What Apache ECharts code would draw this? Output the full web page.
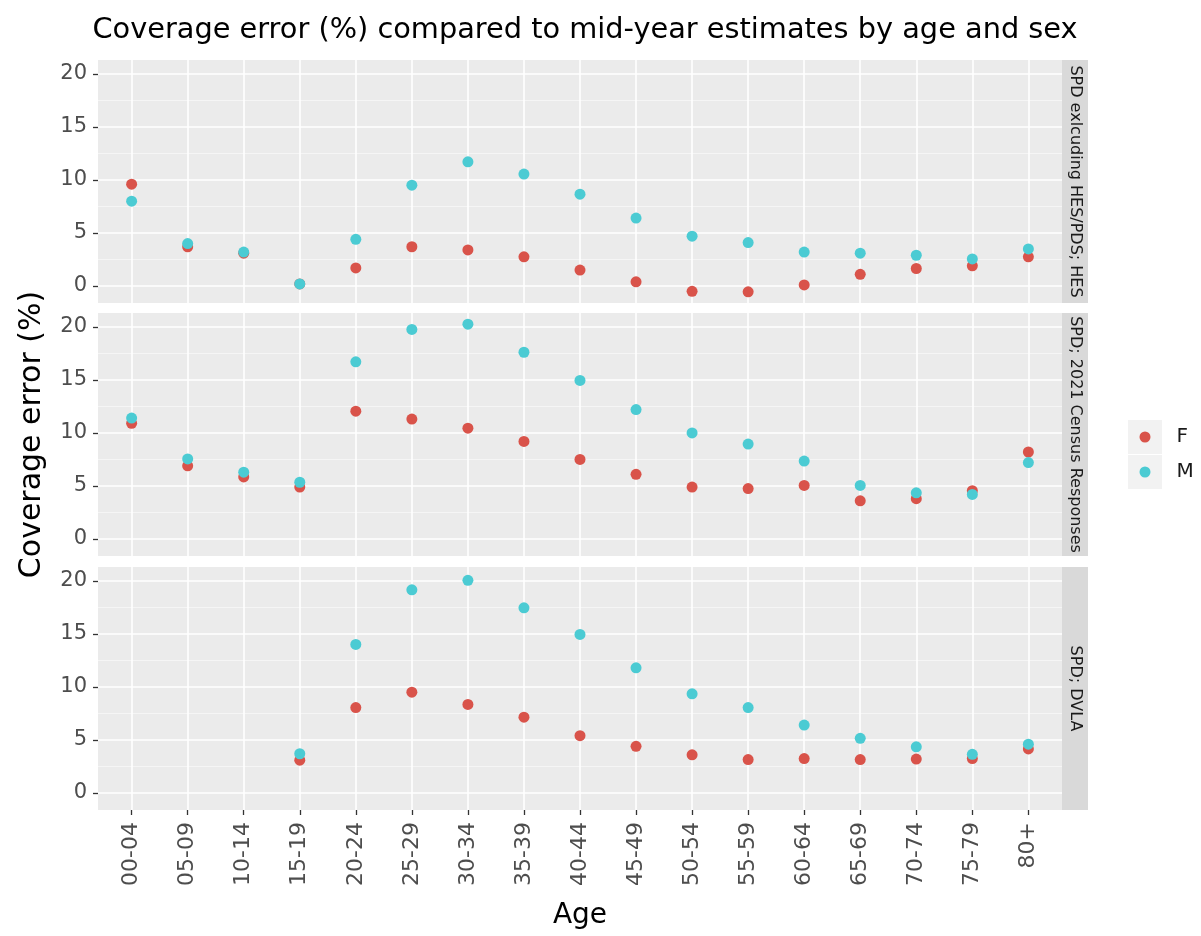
<!DOCTYPE html>
<html>
<head>
<meta charset="utf-8">
<script src="https://cdn.jsdelivr.net/npm/echarts@6/dist/echarts.min.js"></script>
<style>
  html, body { margin: 0; padding: 0; background: #fff; }
  #main { width: 1201px; height: 936px; }
</style>
</head>
<body>
<div id="main"></div>
<script>
// age bands on the x axis
var ages = ['00-04', '05-09', '10-14', '15-19', '20-24', '25-29', '30-34', '35-39',
            '40-44', '45-49', '50-54', '55-59', '60-64', '65-69', '70-74', '75-79', '80+'];

// facet strip labels
var panels = ['SPD exlcuding HES/PDS; HES', 'SPD; 2021 Census Responses', 'SPD; DVLA'];

// coverage error (%) per facet and sex
var hesF = [9.6, 3.7, 3.1, 0.2, 1.7, 3.7, 3.4, 2.75, 1.5, 0.4, -0.5, -0.55, 0.1, 1.1, 1.65, 1.9, 2.75];
var hesM = [8.0, 4.0, 3.2, 0.2, 4.4, 9.5, 11.7, 10.55, 8.65, 6.4, 4.7, 4.1, 3.2, 3.1, 2.9, 2.55, 3.5];
var censusF = [10.9, 6.9, 5.85, 4.9, 12.05, 11.3, 10.45, 9.2, 7.5, 6.1, 4.9, 4.75, 5.05, 3.6, 3.8, 4.55, 8.2];
var censusM = [11.4, 7.55, 6.3, 5.35, 16.7, 19.75, 20.25, 17.6, 14.95, 12.2, 10.0, 8.95, 7.35, 5.05, 4.35, 4.2, 7.2];
var dvlaF = [null, null, null, 3.1, 8.05, 9.5, 8.35, 7.15, 5.4, 4.4, 3.6, 3.15, 3.25, 3.15, 3.2, 3.25, 4.15];
var dvlaM = [null, null, null, 3.7, 14.0, 19.15, 20.05, 17.45, 14.95, 11.8, 9.35, 8.05, 6.4, 5.15, 4.35, 3.65, 4.6];

var yTicks = [0, 5, 10, 15, 20];
var yMinor = [2.5, 7.5, 12.5, 17.5];

var sexes = ['F', 'M'];
var colors = { F: '#D9534A', M: '#4BCBD3' };
var facetData = [[hesF, hesM], [censusF, censusM], [dvlaF, dvlaM]];

// layout
var FONT = 'DejaVu Sans';
var LEFT = 98, PANEL_RIGHT = 1062, PANEL_H = 243, STRIP_W = 26;
var tops = [60, 313, 567];

var chart = echarts.init(document.getElementById('main'));

function toPoints(vals) {
    var out = [];
    vals.forEach(function (v, i) {
        if (v !== null) out.push([i, v]);
    });
    return out;
}

var xTicks = ages.map(function (a, k) { return k; });
var grids = [], xAxes = [], yAxes = [], series = [], graphics = [];

tops.forEach(function (top, i) {
    var last = i === tops.length - 1;
    grids.push({
        left: LEFT, width: PANEL_RIGHT - LEFT, top: top, height: PANEL_H,
        show: true, backgroundColor: '#EBEBEB', borderWidth: 0
    });
    xAxes.push({
        type: 'value', gridIndex: i, min: -0.6, max: 16.6, position: 'bottom',
        axisLine: { show: false, onZero: false },
        axisTick: { show: last, customValues: xTicks,
                    length: 5, lineStyle: { color: '#333', width: 1.3 } },
        axisLabel: { show: last, customValues: xTicks,
                     rotate: 90, margin: 12, fontFamily: FONT, fontSize: 22, color: '#4D4D4D',
                     formatter: function (v) { return ages[Math.round(v)]; } },
        splitLine: { show: true, lineStyle: { color: '#fff', width: 1.6 } },
        name: last ? 'Age' : '', nameLocation: 'middle', nameGap: 92,
        nameTextStyle: { fontFamily: FONT, fontSize: 28, color: '#000' }
    });
    yAxes.push({
        type: 'value', gridIndex: i, min: -1.6, max: 21.3, position: 'left',
        axisLine: { show: false, onZero: false },
        axisTick: { show: true, customValues: yTicks, length: 5, lineStyle: { color: '#333', width: 1.3 } },
        axisLabel: { customValues: yTicks, margin: 11, fontFamily: FONT, fontSize: 21, color: '#4D4D4D' },
        splitLine: { show: true, lineStyle: { color: '#fff', width: 1.6 } },
        name: i === 1 ? 'Coverage error (%)' : '', nameLocation: 'middle', nameGap: 51,
        nameTextStyle: { fontFamily: FONT, fontSize: 30, color: '#000' }
    });
    // minor grid lines
    yAxes.push({
        type: 'value', gridIndex: i, min: -1.6, max: 21.3, position: 'right',
        axisLine: { show: false, onZero: false },
        axisTick: { show: false, customValues: yMinor },
        axisLabel: { show: false, customValues: yMinor },
        splitLine: { show: true, lineStyle: { color: '#F7F7F7', width: 0.8 } }
    });

    sexes.forEach(function (s, k) {
        series.push({
            name: s, type: 'scatter', xAxisIndex: i, yAxisIndex: i * 2,
            data: toPoints(facetData[i][k]),
            symbolSize: 11,
            itemStyle: { color: colors[s], opacity: 1 },
            emphasis: { disabled: true }
        });
    });

    graphics.push({
        type: 'rect', left: PANEL_RIGHT, top: top,
        shape: { width: STRIP_W, height: PANEL_H },
        style: { fill: '#D9D9D9' }, silent: true
    });
    graphics.push({
        type: 'text', x: PANEL_RIGHT + STRIP_W / 2, y: top + PANEL_H / 2, rotation: -Math.PI / 2,
        style: { text: panels[i], align: 'center', verticalAlign: 'middle',
                 font: '16px "DejaVu Sans"', fill: '#1A1A1A' },
        silent: true
    });
});

// legend key backgrounds
[420, 455].forEach(function (y) {
    graphics.push({
        type: 'rect', left: 1128, top: y, shape: { width: 34, height: 34 },
        style: { fill: '#F2F2F2' }, silent: true, z: -1
    });
});

chart.setOption({
    animation: false,
    title: {
        text: 'Coverage error (%) compared to mid-year estimates by age and sex',
        left: (LEFT + PANEL_RIGHT) / 2, textAlign: 'center', top: 11,
        textStyle: { fontFamily: FONT, fontSize: 28.8, fontWeight: 'normal', color: '#000' }
    },
    legend: {
        data: sexes, orient: 'vertical', left: 1139.5, top: 427, padding: 0,
        icon: 'circle', itemWidth: 11, itemHeight: 11, itemGap: 15,
        selectedMode: false,
        textStyle: { fontFamily: FONT, fontSize: 20, color: '#1A1A1A', lineHeight: 20, padding: [0, 0, 0, 21] }
    },
    grid: grids,
    xAxis: xAxes,
    yAxis: yAxes,
    series: series,
    graphic: graphics
});
</script>
</body>
</html>
